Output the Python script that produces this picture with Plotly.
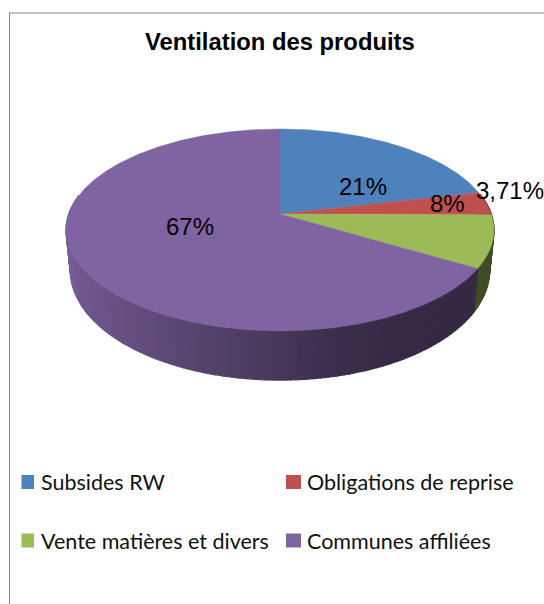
import numpy as np
import plotly.graph_objects as go

# ---- data ----
categories = ["Subsides RW", "Obligations de reprise", "Vente matières et divers", "Communes affiliées"]
values = [21.4, 3.71, 8.4, 66.5]
value_labels = ["21%", "3,71%", "8%", "67%"]
colors = ["#4F81BD", "#C0504D", "#9BBB59", "#8064A2"]
title = "Ventilation des produits"

# ---- layout of the pseudo-3D projection (pixels) ----
W, H = 544, 604
CX = 280
K = 0.158           # perspective strength
TOP = dict(a=211.3, b=98.5, y0=214)
BOT = dict(a=207.0, b=107.0, y0=253)
LABEL_XY = [(363, 186), (510, 190), (447, 203), (190, 226)]
LEGEND_XY = [(21.5, 482), (286, 482), (21.5, 540.5), (286, 540.5)]
LEGEND_SW = [12.5, 15, 12.5, 15]
LEGEND_TEXT_X = [41.7, 307.6, 41.7, 307.6]


def project(theta, plane):
    X, Y = np.sin(theta), np.cos(theta)
    w = 1 + K * Y
    return CX + plane["a"] * X / w, plane["y0"] - plane["b"] * Y / w


def side_shade(x):
    return np.interp(x, [66, 80, 180, 270, 330, 400, 494], [0.95, 0.87, 0.70, 0.57, 0.47, 0.42, 0.41])


def rgb(hex_color, f=1.0):
    c = [int(hex_color[i:i + 2], 16) for i in (1, 3, 5)]
    return "rgb(%d,%d,%d)" % tuple(round(v * f) for v in c)


fractions = np.array(values) / np.sum(values)
edges = np.concatenate([[0], np.cumsum(fractions)]) * 2 * np.pi

fig = go.Figure()

# side wall: narrow strips, only the part that faces the viewer
STRIP = np.radians(1.0)
for i, col in enumerate(colors):
    a0, a1 = edges[i], edges[i + 1]
    n = max(1, int(np.ceil((a1 - a0) / STRIP)))
    t = np.linspace(a0, a1, n + 1)
    for s0, s1 in zip(t[:-1], t[1:]):
        mid = 0.5 * (s0 + s1)
        if np.cos(mid) > 0.2:
            continue
        tt = np.linspace(s0, s1, 3)
        xt, yt = project(tt, TOP)
        xb, yb = project(tt[::-1], BOT)
        xm = project(mid, TOP)[0]
        fill = rgb(col, side_shade(xm))
        fig.add_trace(go.Scatter(
            x=np.concatenate([xt, xb, xt[:1]]), y=np.concatenate([yt, yb, yt[:1]]),
            mode="lines", fill="toself", fillcolor=fill,
            line=dict(color=fill, width=1.2), hoverinfo="skip", showlegend=False))

# top face: one wedge per category
for i, (name, col) in enumerate(zip(categories, colors)):
    tt = np.arange(edges[i], edges[i + 1], np.radians(0.5))
    tt = np.append(tt, edges[i + 1])
    xr, yr = project(tt, TOP)
    hx, hy = project(0.0, dict(TOP, a=0, b=0))
    fig.add_trace(go.Scatter(
        x=np.concatenate([[hx], xr, [hx]]), y=np.concatenate([[hy], yr, [hy]]),
        mode="lines", fill="toself", fillcolor=col, line=dict(color=col, width=0.4),
        name=name, text=name, hoverinfo="text", showlegend=False))

annotations = [dict(x=279.5, y=41, text="<b>%s</b>" % title, showarrow=False,
                    font=dict(family="Liberation Sans", size=23.8, color="#000000"))]
for (x, y), lab in zip(LABEL_XY, value_labels):
    annotations.append(dict(x=x, y=y, text=lab, showarrow=False,
                            font=dict(family="Liberation Sans", size=24, color="#000000")))

shapes = [
    dict(type="line", x0=9, x1=W, y0=13, y1=13, line=dict(color="#868686", width=1)),
    dict(type="line", x0=9.5, x1=9.5, y0=12.5, y1=H, line=dict(color="#868686", width=1)),
]
for (x, y), sw, tx, name, col in zip(LEGEND_XY, LEGEND_SW, LEGEND_TEXT_X, categories, colors):
    shapes.append(dict(type="rect", x0=x, x1=x + sw, y0=y - 7, y1=y + 7,
                       fillcolor=col, line=dict(width=0)))
    annotations.append(dict(x=tx, y=y, text=name, showarrow=False, xanchor="left", xshift=-2.5,
                            font=dict(family="Lato", size=21.5, color="#111111")))

axis = dict(visible=False, fixedrange=True, showgrid=False, zeroline=False)
fig.update_layout(
    width=W, height=H, autosize=False, margin=dict(l=0, r=0, t=0, b=0),
    paper_bgcolor="#ffffff", plot_bgcolor="#ffffff", showlegend=False,
    xaxis=dict(axis, range=[0, W]), yaxis=dict(axis, range=[H, 0]),
    annotations=annotations, shapes=shapes)
fig.write_html("out.html", config=dict(displayModeBar=False),
               post_script="document.body.style.margin='0';document.body.style.overflow='hidden';")
